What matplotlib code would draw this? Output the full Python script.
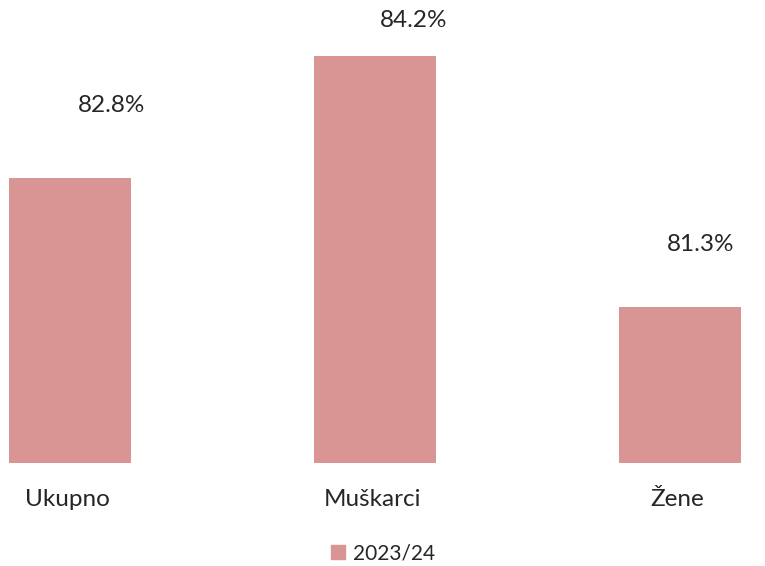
import matplotlib
matplotlib.use("Agg")
import matplotlib.pyplot as plt
from matplotlib.patches import Patch

categories = ["Ukupno", "Muškarci", "Žene"]
values = [82.8, 84.2, 81.3]
series_name = "2023/24"

plt.rcParams['font.family'] = ['Lato', 'DejaVu Sans']

fig = plt.figure(figsize=(7.65, 5.66), dpi=100)
H = 566
ax = fig.add_axes([0, (H - 463) / H, 1, 463 / H])
color = "#D99594"
x = list(range(len(categories)))
ax.bar(x, values, width=0.4, color=color, bottom=0)
ax.set_xlim(-0.2295, 2.279)
ax.set_ylim(79.5, 79.5 + 463 / 86.5)

# label offsets in points (dx, dy) relative to bar top center
offsets = [(30, 52), (28, 26), (15, 45)]
for xi, v, (dx, dy) in zip(x, values, offsets):
    ax.annotate(f"{v:.1f}%", (xi, v), xytext=(dx, dy), textcoords="offset points",
                ha="center", va="center", fontsize=17.5, color="#262626")

for s in ax.spines.values():
    s.set_visible(False)
ax.set_yticks([])
ax.set_xticks([])
for xi, c in zip(x, categories):
    ax.annotate(c, (xi, 0), xycoords=("data", "axes fraction"), xytext=(-2, -26),
                textcoords="offset points", ha="center", va="center",
                fontsize=17.5, color="#262626")

leg = fig.legend(handles=[Patch(color=color, label=series_name)], loc="center",
                 bbox_to_anchor=(383 / 765, 1 - 553 / H), frameon=False, fontsize=15,
                 handlelength=0.65, handleheight=0.65, handletextpad=0.4,
                 labelcolor="#262626")

fig.savefig("out.png", dpi=100)
